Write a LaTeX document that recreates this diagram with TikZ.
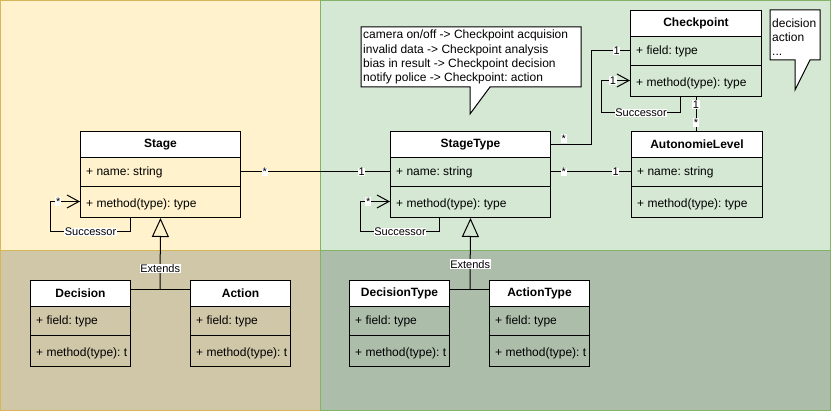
\documentclass[tikz,border=0pt]{standalone}
\usepackage{fontspec}
\setmainfont{Liberation Sans}
\usetikzlibrary{arrows.meta}
\frenchspacing
\definecolor{ylfill}{HTML}{FFF2CC}
\definecolor{ylline}{HTML}{D6B656}
\definecolor{grfill}{HTML}{D5E8D4}
\definecolor{grline}{HTML}{82B366}
\definecolor{tanfill}{HTML}{D0C6A8}
\definecolor{sagefill}{HTML}{ACBDAA}
\tikzset{
  classbox/.style={draw, line width=1pt, inner sep=0pt, anchor=north west},
  headbox/.style={draw, line width=1pt, fill=white, inner sep=0pt, anchor=north west, font=\fontsize{12}{14}\selectfont\bfseries},
  member/.style={anchor=west, inner sep=0pt, font=\fontsize{12}{14}\selectfont},
  conn/.style={line width=1pt},
  lbl/.style={fill=white, inner sep=0.6pt, font=\fontsize{11}{13}\selectfont},
  selfarrow/.style={conn, -{Straight Barb[length=12pt,width=13pt]}},
  inherit/.style={conn, -{Triangle[open, length=19pt, width=17pt]}},
  notetext/.style={anchor=north west, align=left, inner sep=0pt, font=\fontsize{12}{14.3}\selectfont},
}
\newcommand\umlclass[7]{%
  \node[classbox, minimum width=#4pt, minimum height=86pt] (#1) at (#2,#3) {};
  \node[headbox, minimum width=#4pt, minimum height=26pt] (#1-h) at (#2,#3) {#5};
  \draw[line width=1pt] ({#2},{#3+56}) -- ({#2+#4},{#3+56});
  \node[member] (#1-f) at ({#2+6},{#3+41}) {#6};
  \node[member] (#1-m) at ({#2+6},{#3+73}) {#7};
  \coordinate (#1-ma) at ({#2},{#3+70.5});
}
\begin{document}
\begin{tikzpicture}[x=1pt,y=-1pt]
\useasboundingbox (0,0) rectangle (831,411);
% panels
\draw[fill=ylfill, draw=ylline, line width=1pt] (0.5,0.5) rectangle (320.5,250.5);
\draw[fill=tanfill, draw=ylline, line width=1pt] (0.5,250.5) rectangle (320.5,410.5);
\draw[fill=grfill, draw=grline, line width=1pt] (320.5,0.5) rectangle (830.5,250.5);
\draw[fill=sagefill, draw=grline, line width=1pt] (320.5,250.5) rectangle (830.5,410.5);

% classes
\umlclass{Stage}{80}{131}{160}{Stage}{+ name: string}{+ method(type): type}
\umlclass{StageType}{390}{131}{160}{StageType}{+ name: string}{+ method(type): type}
\umlclass{AutonomieLevel}{631}{131}{131}{AutonomieLevel}{+ name: string}{+ method(type): type}
\umlclass{Checkpoint}{630}{10}{131}{Checkpoint}{+ field: type}{+ method(type): type}
\umlclass{Decision}{30}{280}{100}{Decision}{+ field: type}{+ method(type): t}
\umlclass{Action}{190}{280}{100}{Action}{+ field: type}{+ method(type): t}
\umlclass{DecisionType}{349}{280}{100}{DecisionType}{+ field: type}{+ method(type): t}
\umlclass{ActionType}{489}{280}{100}{ActionType}{+ field: type}{+ method(type): t}

% callouts
\draw[fill=white, line width=1pt] (361,27) -- (581,27) -- (581,87) -- (490,87) -- (470,114) -- (470,87) -- (361,87) -- cycle;
\node[notetext] (note1) at (363,30) {camera on/off -> Checkpoint acquision\\invalid data -> Checkpoint analysis\\bias in result -> Checkpoint decision\\notify police -> Checkpoint: action};
\draw[fill=white, line width=1pt] (770,10) -- (820,10) -- (820,60) -- (810,60) -- (795,90) -- (795,60) -- (770,60) -- cycle;
\node[notetext, font=\fontsize{12}{14}\selectfont] (note2) at (772,19) {decision\\action\\...};

% associations
\draw[conn] (Stage.east |- Stage-f) -- node[lbl, pos=0.16]{*} node[lbl, pos=0.81]{1} (StageType.west |- StageType-f);
\draw[conn] (StageType.east |- StageType-f) -- node[lbl, pos=0.16]{*} node[lbl, pos=0.81]{1} (AutonomieLevel.west |- AutonomieLevel-f);
\draw[conn] (StageType.east |- StageType-h) -- node[lbl, pos=0.32, above=1pt]{*} ++(40,0) |- node[lbl, pos=0.83]{1} (Checkpoint.west |- Checkpoint-f);
\draw[conn] (Checkpoint.south) -- node[lbl, pos=0.23]{1} node[lbl, pos=0.76]{*} (Checkpoint.south |- AutonomieLevel.north);

% self loops
\draw[selfarrow] ([xshift=-30pt]Stage.south) -- ++(0,14) -- node[lbl]{Successor} ++(-80,0) |- node[lbl, pos=0.63]{*} (Stage-ma);
\draw[selfarrow] ([xshift=-31pt]StageType.south) -- ++(0,14) -- node[lbl]{Successor} ++(-79,0) |- node[lbl, pos=0.63]{*} (StageType-ma);
\draw[selfarrow] ([xshift=-15.5pt]Checkpoint.south) -- ++(0,16) -- node[lbl]{Successor} ++(-79,0) |- node[lbl, pos=0.7]{1} (Checkpoint-ma);

% inheritance
\coordinate (j1) at (160,290);
\draw[conn] (Decision.east |- j1) -- (Action.west |- j1);
\draw[inherit] (j1) -- node[lbl, pos=0.3]{Extends} (Stage.south);
\coordinate (j2) at (470,290);
\draw[conn] (DecisionType.east |- j2) -- (ActionType.west |- j2);
\draw[inherit] (j2) -- node[lbl, pos=0.36]{Extends} (StageType.south);
\end{tikzpicture}
\end{document}
